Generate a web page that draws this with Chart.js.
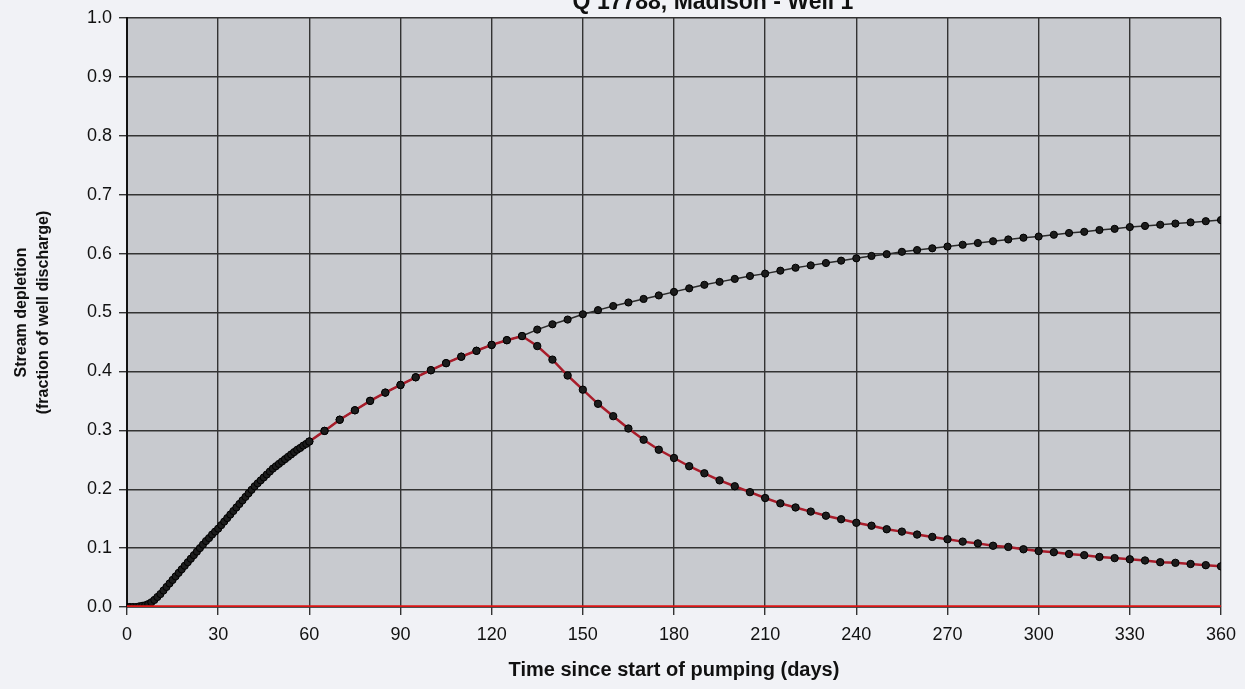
<!DOCTYPE html>
<html>
<head>
<meta charset="utf-8">
<title>Stream depletion - Well 1</title>
<script src="https://cdn.jsdelivr.net/npm/chart.js@4.4.1/dist/chart.umd.min.js"></script>
<style>
    body { margin: 0; background: #f1f2f6; }
    #wrap { width: 1245px; height: 689px; position: relative; }
</style>
</head>
<body>
<div id="wrap"><canvas id="depletionChart"></canvas></div>
<script>
const chartTitle = "Q 17788, Madison - Well 1";

// daily values for the first 60 days of pumping
const earlyDays = [0, 1, 2, 3, 4, 5, 6, 7, 8, 9, 10, 11, 12, 13, 14, 15, 16, 17, 18, 19, 20,
    21, 22, 23, 24, 25, 26, 27, 28, 29, 30, 31, 32, 33, 34, 35, 36, 37, 38, 39, 40,
    41, 42, 43, 44, 45, 46, 47, 48, 49, 50, 51, 52, 53, 54, 55, 56, 57, 58, 59, 60];
const earlyDepletion = [0, 0, 0, 0, 0.001, 0.002, 0.003, 0.005, 0.008, 0.012, 0.017,
    0.022, 0.028, 0.034, 0.040, 0.046, 0.052, 0.058, 0.064, 0.070, 0.076,
    0.082, 0.088, 0.094, 0.100, 0.106, 0.112, 0.117, 0.123, 0.128, 0.133,
    0.139, 0.145, 0.151, 0.157, 0.163, 0.169, 0.175, 0.181, 0.187, 0.193,
    0.199, 0.205, 0.210, 0.215, 0.220, 0.225, 0.230, 0.235, 0.239, 0.243,
    0.247, 0.251, 0.255, 0.259, 0.263, 0.267, 0.270, 0.274, 0.277, 0.281];

// every 5 days after day 60
const laterDays = [65, 70, 75, 80, 85, 90, 95, 100, 105, 110, 115, 120, 125, 130, 135, 140,
    145, 150, 155, 160, 165, 170, 175, 180, 185, 190, 195, 200, 205, 210, 215, 220,
    225, 230, 235, 240, 245, 250, 255, 260, 265, 270, 275, 280, 285, 290, 295, 300,
    305, 310, 315, 320, 325, 330, 335, 340, 345, 350, 355, 360];
const continuousDepletion = [0.299, 0.318, 0.334, 0.350, 0.364, 0.377, 0.390, 0.402, 0.414,
    0.425, 0.435, 0.445, 0.453, 0.460, 0.471, 0.480, 0.488, 0.497, 0.504, 0.511,
    0.517, 0.523, 0.529, 0.535, 0.541, 0.547, 0.552, 0.557, 0.562, 0.566, 0.571,
    0.576, 0.580, 0.584, 0.588, 0.592, 0.596, 0.599, 0.603, 0.606, 0.609, 0.612,
    0.615, 0.618, 0.621, 0.624, 0.627, 0.629, 0.632, 0.635, 0.637, 0.640, 0.642,
    0.645, 0.647, 0.649, 0.651, 0.653, 0.655, 0.657];

// pumping stopped at day 130
const cycleDays = [60].concat(laterDays);
const cycleDepletion = [0.281, 0.299, 0.318, 0.334, 0.350, 0.364, 0.377, 0.390, 0.402, 0.414,
    0.425, 0.435, 0.445, 0.453, 0.460, 0.443, 0.420, 0.393, 0.369, 0.345, 0.324,
    0.303, 0.284, 0.267, 0.253, 0.239, 0.227, 0.215, 0.205, 0.195, 0.185, 0.176,
    0.169, 0.162, 0.155, 0.149, 0.143, 0.138, 0.132, 0.128, 0.123, 0.119, 0.115,
    0.111, 0.108, 0.104, 0.102, 0.098, 0.095, 0.093, 0.090, 0.088, 0.085, 0.083,
    0.081, 0.079, 0.076, 0.075, 0.073, 0.071, 0.069];

const zeroDays = [0, 360];
const zeroDepletion = [0, 0];

function toPoints(xs, ys) {
    return xs.map((x, i) => ({ x: x, y: ys[i] }));
}

const backgroundPlugin = {
    id: 'paperBackground',
    beforeDraw(chart) {
        const c = chart.ctx;
        const a = chart.chartArea;
        c.save();
        c.fillStyle = '#f1f2f6';
        c.fillRect(0, 0, chart.width, chart.height);
        c.fillStyle = '#c8cacf';
        c.fillRect(a.left, a.top, a.right - a.left, a.bottom - a.top);
        c.restore();
    }
};

const titlePlugin = {
    id: 'cutTitle',
    afterDraw(chart) {
        const c = chart.ctx;
        c.save();
        c.font = 'bold 23px "Liberation Sans", Arial, sans-serif';
        c.fillStyle = '#111';
        c.textAlign = 'center';
        c.textBaseline = 'alphabetic';
        c.fillText(chartTitle, 713, 9);
        c.restore();
    }
};

const fontFamily = '"Liberation Sans", Arial, sans-serif';
const gridColor = '#333';

const ctx = document.getElementById('depletionChart').getContext('2d');
new Chart(ctx, {
    type: 'line',
    data: {
        datasets: [
            {
                label: 'Pumping stopped',
                data: toPoints(cycleDays, cycleDepletion),
                borderColor: '#a81c2a',
                borderWidth: 2.5,
                pointRadius: 3.7,
                pointBackgroundColor: '#1c1c1c',
                pointBorderColor: '#000',
                pointBorderWidth: 1,
                tension: 0,
                order: 1
            },
            {
                label: 'Continuous pumping',
                data: toPoints(earlyDays, earlyDepletion).concat(toPoints(laterDays, continuousDepletion)),
                borderColor: '#2a2a2a',
                borderWidth: 1.5,
                pointRadius: 3.6,
                pointBackgroundColor: '#1c1c1c',
                pointBorderColor: '#000',
                pointBorderWidth: 1,
                tension: 0,
                order: 2
            },
            {
                label: 'Zero',
                data: toPoints(zeroDays, zeroDepletion),
                borderColor: '#dc1414',
                borderWidth: 3.5,
                pointRadius: 0,
                order: 0
            }
        ]
    },
    options: {
        responsive: true,
        maintainAspectRatio: false,
        animation: false,
        layout: { padding: { left: 0, right: 23, top: 18, bottom: 0 } },
        plugins: {
            legend: { display: false },
            tooltip: { enabled: false }
        },
        scales: {
            x: {
                type: 'linear',
                min: 0,
                max: 360,
                afterFit: scale => { scale.height = 82; },
                border: { color: '#111', width: 1.5 },
                grid: { color: gridColor, lineWidth: 1.4, tickLength: 8, tickColor: gridColor },
                ticks: {
                    stepSize: 30,
                    padding: 9,
                    color: '#111',
                    font: { family: fontFamily, size: 18 }
                },
                title: {
                    display: true,
                    text: 'Time since start of pumping (days)',
                    color: '#111',
                    padding: { top: 4, bottom: 7 },
                    font: { family: fontFamily, size: 20, weight: 'bold' }
                }
            },
            y: {
                min: 0,
                max: 1,
                afterFit: scale => { scale.width = 127; },
                border: { color: '#111', width: 2 },
                grid: { color: gridColor, lineWidth: 1.4, tickLength: 8, tickColor: gridColor },
                ticks: {
                    stepSize: 0.1,
                    padding: 7,
                    color: '#111',
                    font: { family: fontFamily, size: 18 },
                    callback: v => v.toFixed(1)
                },
                title: {
                    display: true,
                    text: ['Stream depletion', '(fraction of well discharge)'],
                    color: '#111',
                    padding: { top: 10, bottom: 4 },
                    font: { family: fontFamily, size: 16, weight: 'bold', lineHeight: 1.4 }
                }
            }
        }
    },
    plugins: [backgroundPlugin, titlePlugin]
});
</script>
</body>
</html>
